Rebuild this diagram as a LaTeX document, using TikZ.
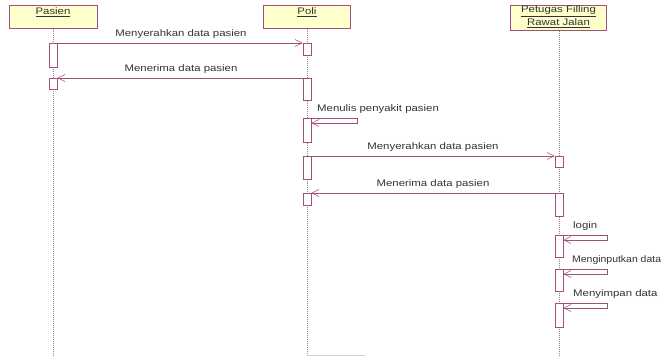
\documentclass[tikz,border=0pt]{standalone}
\usepackage{fontspec}
\setmainfont{Liberation Sans}
\usetikzlibrary{arrows.meta}
\definecolor{umlline}{HTML}{A0507C}
\definecolor{umlfill}{HTML}{FFFFCC}
\definecolor{txtgray}{HTML}{333333}
\definecolor{lifegray}{HTML}{8A8A8A}
\newcommand{\wx}[1]{\scalebox{1.2}[1]{#1}}
\tikzset{
  hdr/.style={draw=umlline, fill=umlfill, line width=0.6pt, inner sep=0pt, anchor=north},
  act/.style={draw=umlline, fill=white, line width=0.6pt, inner sep=0pt, minimum width=8pt, anchor=north},
  life/.style={draw=lifegray, line width=0.7pt, dash pattern=on 1pt off 1pt},
  msg/.style={draw=umlline, line width=0.6pt, -{Straight Barb[length=7pt,width=7pt]}},
  lbl/.style={font=\fontsize{9.5}{11}\selectfont, text=txtgray, inner sep=0pt},
}
\begin{document}
\begin{tikzpicture}[x=1pt,y=-1pt]
\useasboundingbox (0,0) rectangle (665,358);
% headers
\node[hdr, minimum width=88pt, minimum height=23pt] (H1) at (53,5) {};
\node[lbl] (H1t) at (53,12.5) {\wx{\underline{Pasien}}};
\node[hdr, minimum width=87pt, minimum height=23pt] (H2) at (307,5) {};
\node[lbl] (H2t) at (307,12.5) {\wx{\underline{Poli}}};
\node[hdr, minimum width=96pt, minimum height=25pt] (H3) at (558.5,5) {};
\node[lbl] (H3t) at (558.5,11) {\wx{\underline{Petugas Filling}}};
\node[lbl] (H3u) at (558.5,23) {\wx{\underline{Rawat Jalan}}};
% lifeline ends
\coordinate (E1) at (53,355);
\coordinate (E2) at (307,355);
\coordinate (E3) at (559,355);
\draw[life] (H1.south) -- (E1);
\draw[life] (H2.south) -- (E2);
\draw[life] (H3.south -| E3) -- (E3);
% activations
\node[act, minimum height=24pt] (A1) at (53,43) {};
\node[act, minimum height=11pt] (A2) at (53,78) {};
\node[act, minimum height=12pt] (P1) at (307,43) {};
\node[act, minimum height=22pt] (P2) at (307,78) {};
\node[act, minimum height=24pt] (P3) at (307,118) {};
\node[act, minimum height=23pt] (P4) at (307,156) {};
\node[act, minimum height=12pt] (P5) at (307,193) {};
\node[act, minimum height=11pt] (T1) at (559,156) {};
\node[act, minimum height=23pt] (T2) at (559,193) {};
\node[act, minimum height=22pt] (T3) at (559,235) {};
\node[act, minimum height=22pt] (T4) at (559,269) {};
\node[act, minimum height=24pt] (T5) at (559,303) {};
% messages
\draw[msg] (A1.north east) -- (P1.north west);
\node[lbl] (L1) at (181,34) {\wx{Menyerahkan data pasien}};
\draw[msg] (P2.north west) -- (A2.north east);
\node[lbl] (L2) at (181,69) {\wx{Menerima data pasien}};
\draw[msg] (P3.north east) -- ++(46,0) -- ++(0,5) -- ([yshift=-5pt]P3.north east);
\node[lbl, anchor=west] (L3) at (317,109) {\wx{Menulis penyakit pasien}};
\draw[msg] (P4.north east) -- (T1.north west);
\node[lbl] (L4) at (433,147) {\wx{Menyerahkan data pasien}};
\draw[msg] (T2.north west) -- (P5.north east);
\node[lbl] (L5) at (433,184) {\wx{Menerima data pasien}};
\draw[msg] (T3.north east) -- ++(44,0) -- ++(0,5) -- ([yshift=-5pt]T3.north east);
\node[lbl, anchor=west] (L6) at (573,226) {\wx{login}};
\draw[msg] (T4.north east) -- ++(44,0) -- ++(0,5) -- ([yshift=-5pt]T4.north east);
\node[lbl, anchor=west] (L7) at (572,260) {\scalebox{1.1}[1]{Menginputkan data}};
\draw[msg] (T5.north east) -- ++(44,0) -- ++(0,5) -- ([yshift=-5pt]T5.north east);
\node[lbl, anchor=west] (L8) at (573,294) {\wx{Menyimpan data}};
% faint bottom mark
\draw[gray!35, line width=0.5pt] (E2) -- ++(58,0);
\end{tikzpicture}
\end{document}
